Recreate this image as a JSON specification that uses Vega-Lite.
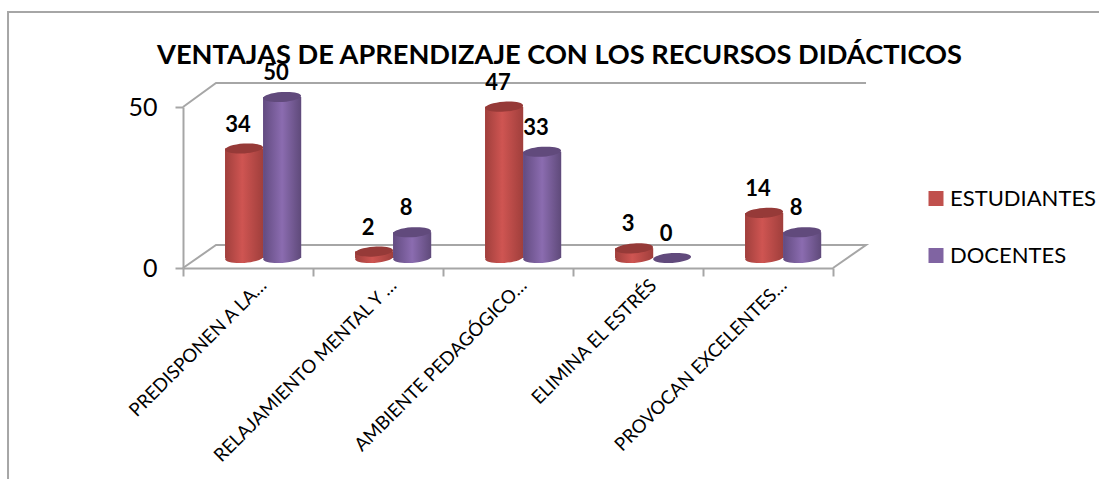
{
"$schema":"https://vega.github.io/schema/vega-lite/v6.json",
"width":650,"height":161,"autosize":"none",
"padding":{"left":183,"top":107,"right":266,"bottom":211},
"background":"white",
"config":{"view":{"stroke":null},"font":"Lato"},
"title":{"text":"VENTAJAS DE APRENDIZAJE CON LOS RECURSOS DIDÁCTICOS","font":"Lato","fontSize":27.2,"fontWeight":"bold","color":"#000000","anchor":"middle","frame":"group","dx":51.5,"offset":-62},
"data":{"values":[
{"categoria":"PREDISPONEN A LA…","serie":"ESTUDIANTES","valor":34},
{"categoria":"PREDISPONEN A LA…","serie":"DOCENTES","valor":50},
{"categoria":"RELAJAMIENTO MENTAL Y …","serie":"ESTUDIANTES","valor":2},
{"categoria":"RELAJAMIENTO MENTAL Y …","serie":"DOCENTES","valor":8},
{"categoria":"AMBIENTE PEDAGÓGICO…","serie":"ESTUDIANTES","valor":47},
{"categoria":"AMBIENTE PEDAGÓGICO…","serie":"DOCENTES","valor":33},
{"categoria":"ELIMINA EL ESTRÉS","serie":"ESTUDIANTES","valor":3},
{"categoria":"ELIMINA EL ESTRÉS","serie":"DOCENTES","valor":0},
{"categoria":"PROVOCAN EXCELENTES…","serie":"ESTUDIANTES","valor":14},
{"categoria":"PROVOCAN EXCELENTES…","serie":"DOCENTES","valor":8}
]},
"resolve":{"scale":{"x":"independent"}},
"layer":[
{"data":{"values":[
{"s":"marco","px":-1.346,"py":-65.5,"o":1},{"s":"marco","px":-1.346,"py":79.5,"o":2},{"s":"marco","px":7.05,"py":79.5,"o":3},
{"s":"pared","px":0,"py":50,"o":1},{"s":"pared","px":0.254,"py":57.45,"o":2},{"s":"pared","px":5.254,"py":57.45,"o":3},
{"s":"piso","px":0,"py":0,"o":1},{"s":"piso","px":0.254,"py":7.14,"o":2},{"s":"piso","px":5.254,"py":7.14,"o":3},{"s":"piso","px":5,"py":0,"o":4}
]},
"mark":{"type":"line","stroke":"#a6a6a6","strokeWidth":2,"clip":false},
"encoding":{
"x":{"field":"px","type":"quantitative","scale":{"domain":[0,5],"nice":false,"zero":false},"axis":null},
"y":{"field":"py","type":"quantitative","scale":{"domain":[0,50],"nice":false},
"axis":{"title":null,"values":[0,50],"labelFontSize":25,"labelColor":"#000000","labelFont":"Lato","tickSize":8,"tickColor":"#a6a6a6","tickWidth":2,"domainColor":"#a6a6a6","domainWidth":2,"grid":false,"labelPadding":18}},
"detail":{"field":"s"},
"order":{"field":"o"}
}},
{"encoding":{
"x":{"field":"categoria","type":"nominal","sort":null,"scale":{"paddingInner":0,"paddingOuter":0},
"axis":{"title":null,"labelAngle":-45,"labelAlign":"right","labelBaseline":"middle","labelFontSize":18.6,"labelColor":"#000000","labelFont":"Lato","labelOffset":15,"labelPadding":6,"labelLimit":300,"tickBand":"extent","tickSize":8,"tickColor":"#a6a6a6","tickWidth":2,"domainColor":"#a6a6a6","domainWidth":2,"grid":false}},
"xOffset":{"field":"serie","type":"nominal","sort":["ESTUDIANTES","DOCENTES"],"scale":{"paddingInner":0,"paddingOuter":0.71,"align":0.78}},
"y":{"field":"valor","type":"quantitative","scale":{"domain":[0,50],"nice":false},
"axis":{"title":null,"values":[0,50],"labelFontSize":25,"labelColor":"#000000","labelFont":"Lato","tickSize":8,"tickColor":"#a6a6a6","tickWidth":2,"domainColor":"#a6a6a6","domainWidth":2,"grid":false,"labelPadding":18}}
},
"layer":[
{"mark":{"type":"bar","yOffset":-10,"y2Offset":-10},
"encoding":{"y2":{"datum":0},
"color":{"field":"serie","type":"nominal","sort":["ESTUDIANTES","DOCENTES"],"scale":{"domain":["ESTUDIANTES","DOCENTES"],"range":["#C0504D","#8064A2"]},
"legend":{"title":null,"orient":"none","legendX":742,"legendY":80.5,"symbolType":"square","symbolSize":225,"symbolStrokeWidth":0,"labelFontSize":22,"labelFont":"Lato","labelColor":"#000000","labelOffset":3,"rowPadding":35,"labelLimit":300,"padding":0}}}},
{"mark":{"type":"point","filled":true,"opacity":1,"yOffset":-10,"shape":"M-1,0A1,0.26,0,1,0,1,0A1,0.26,0,1,0,-1,0Z","size":1444,"angle":-4},
"transform":[{"filter":"datum.valor>0"}],
"encoding":{"y":{"datum":0},"color":{"condition":{"test":"datum.serie==='ESTUDIANTES'","value":{"gradient":"linear","x1":0,"x2":1,"y1":0,"y2":0,"stops":[{"offset":0,"color":"#a03f3c"},{"offset":0.45,"color":"#cf5552"},{"offset":1,"color":"#a03f3c"}]}},"value":{"gradient":"linear","x1":0,"x2":1,"y1":0,"y2":0,"stops":[{"offset":0,"color":"#624b80"},{"offset":0.5,"color":"#8b6cb0"},{"offset":1,"color":"#5f4a7a"}]}}}},
{"mark":{"type":"bar","yOffset":-10,"y2Offset":-10},
"encoding":{"y2":{"datum":0},"color":{"condition":{"test":"datum.serie==='ESTUDIANTES'","value":{"gradient":"linear","x1":0,"x2":1,"y1":0,"y2":0,"stops":[{"offset":0,"color":"#a03f3c"},{"offset":0.45,"color":"#cf5552"},{"offset":1,"color":"#a03f3c"}]}},"value":{"gradient":"linear","x1":0,"x2":1,"y1":0,"y2":0,"stops":[{"offset":0,"color":"#624b80"},{"offset":0.5,"color":"#8b6cb0"},{"offset":1,"color":"#5f4a7a"}]}}}},
{"mark":{"type":"point","filled":true,"opacity":1,"yOffset":-10,"shape":"M-1,0A1,0.26,0,1,0,1,0A1,0.26,0,1,0,-1,0Z","size":1444,"angle":-4},
"encoding":{"color":{"condition":{"test":"datum.serie==='ESTUDIANTES'","value":"#963a38"},"value":"#614a7c"}}},
{"mark":{"type":"text","font":"Lato","fontWeight":"bold","fontSize":22,"color":"#000000","dx":-6,"dy":-34,"baseline":"middle"},
"encoding":{"text":{"field":"valor","type":"quantitative"}}}
]}
]}
